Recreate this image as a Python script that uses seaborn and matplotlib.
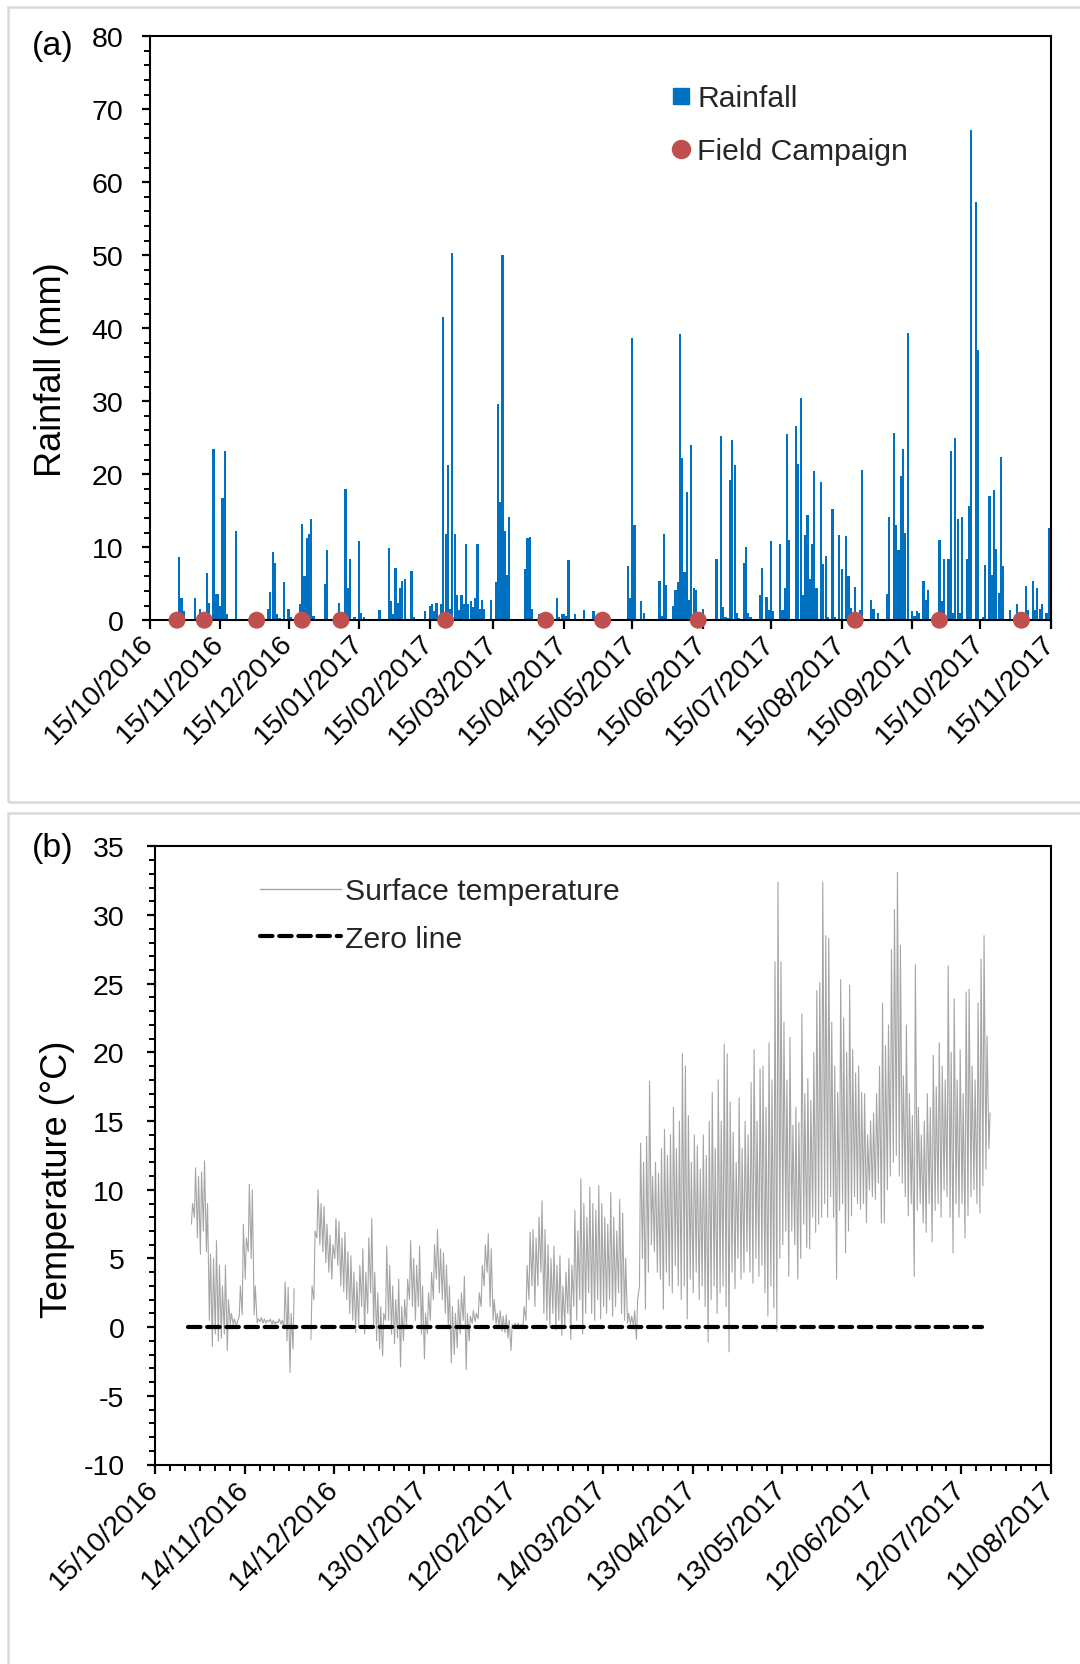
import numpy as np
import pandas as pd
import matplotlib
matplotlib.use("Agg")
import matplotlib.pyplot as plt
import matplotlib.dates as mdates
from matplotlib.ticker import FixedLocator, MultipleLocator, NullLocator
from matplotlib.lines import Line2D
from matplotlib.patches import Rectangle
import seaborn as sns

sns.set_theme(style="white")
plt.rcParams["font.family"] = ["Liberation Sans", "DejaVu Sans"]
plt.rcParams["axes.unicode_minus"] = False

# ---------------- data: panel (a) daily rainfall ----------------
rain_dates = [
    "2016-10-28", "2016-10-29", "2016-10-30", "2016-11-04", "2016-11-06", "2016-11-09",
    "2016-11-10", "2016-11-11", "2016-11-12", "2016-11-13", "2016-11-14", "2016-11-15",
    "2016-11-16", "2016-11-17", "2016-11-18", "2016-11-20", "2016-11-22",
    "2016-12-06", "2016-12-07", "2016-12-08", "2016-12-09", "2016-12-10", "2016-12-11",
    "2016-12-13", "2016-12-15", "2016-12-16", "2016-12-20", "2016-12-21", "2016-12-22",
    "2016-12-23", "2016-12-24", "2016-12-25", "2016-12-26", "2016-12-30", "2016-12-31",
    "2017-01-01", "2017-01-06", "2017-01-09", "2017-01-10", "2017-01-11", "2017-01-13",
    "2017-01-15", "2017-01-16", "2017-01-17", "2017-01-24", "2017-01-28", "2017-01-29",
    "2017-01-30", "2017-01-31", "2017-02-01", "2017-02-02", "2017-02-03", "2017-02-04",
    "2017-02-05", "2017-02-07", "2017-02-08", "2017-02-13", "2017-02-15", "2017-02-16",
    "2017-02-17", "2017-02-18", "2017-02-20", "2017-02-21", "2017-02-22", "2017-02-23",
    "2017-02-24", "2017-02-25", "2017-02-26", "2017-02-27", "2017-02-28", "2017-03-01",
    "2017-03-02", "2017-03-03", "2017-03-04", "2017-03-05", "2017-03-06", "2017-03-07",
    "2017-03-08", "2017-03-09", "2017-03-10", "2017-03-11", "2017-03-12", "2017-03-14",
    "2017-03-16", "2017-03-17", "2017-03-18", "2017-03-19", "2017-03-20", "2017-03-21",
    "2017-03-22", "2017-03-23", "2017-03-29", "2017-03-30", "2017-03-31", "2017-04-01",
    "2017-04-04", "2017-04-06", "2017-04-12", "2017-04-13", "2017-04-14", "2017-04-15",
    "2017-04-16", "2017-04-17", "2017-04-20", "2017-04-24", "2017-04-25", "2017-04-28",
    "2017-05-13", "2017-05-14", "2017-05-15", "2017-05-16", "2017-05-19", "2017-05-20",
    "2017-05-22", "2017-05-23", "2017-05-27", "2017-05-28", "2017-05-29", "2017-05-30",
    "2017-06-01", "2017-06-02", "2017-06-03", "2017-06-04", "2017-06-05", "2017-06-06",
    "2017-06-07", "2017-06-08", "2017-06-09", "2017-06-10", "2017-06-11", "2017-06-12",
    "2017-06-15", "2017-06-21", "2017-06-23", "2017-06-24", "2017-06-25", "2017-06-26",
    "2017-06-27", "2017-06-28", "2017-06-29", "2017-06-30", "2017-07-01", "2017-07-03",
    "2017-07-04", "2017-07-05", "2017-07-06", "2017-07-07", "2017-07-10", "2017-07-11",
    "2017-07-13", "2017-07-14", "2017-07-15", "2017-07-16", "2017-07-19", "2017-07-20",
    "2017-07-21", "2017-07-22", "2017-07-23", "2017-07-26", "2017-07-27", "2017-07-28",
    "2017-07-29", "2017-07-30", "2017-07-31", "2017-08-01", "2017-08-02", "2017-08-03",
    "2017-08-04", "2017-08-06", "2017-08-07", "2017-08-08", "2017-08-09", "2017-08-11",
    "2017-08-12", "2017-08-14", "2017-08-15", "2017-08-17", "2017-08-18", "2017-08-19",
    "2017-08-21", "2017-08-23", "2017-08-24", "2017-08-26", "2017-08-28", "2017-08-29",
    "2017-08-31", "2017-09-04", "2017-09-05", "2017-09-07", "2017-09-08", "2017-09-09",
    "2017-09-10", "2017-09-11", "2017-09-12", "2017-09-13", "2017-09-15", "2017-09-16",
    "2017-09-17", "2017-09-18", "2017-09-20", "2017-09-21", "2017-09-22", "2017-09-27",
    "2017-09-28", "2017-09-29", "2017-10-01", "2017-10-02", "2017-10-03", "2017-10-04",
    "2017-10-05", "2017-10-06", "2017-10-07", "2017-10-09", "2017-10-10", "2017-10-11",
    "2017-10-13", "2017-10-14", "2017-10-16", "2017-10-17", "2017-10-19", "2017-10-20",
    "2017-10-21", "2017-10-22", "2017-10-23", "2017-10-24", "2017-10-25", "2017-10-26",
    "2017-10-28", "2017-10-31", "2017-11-01", "2017-11-04", "2017-11-05", "2017-11-07",
    "2017-11-08", "2017-11-09", "2017-11-10", "2017-11-11", "2017-11-13", "2017-11-14",
]
rain_mm = [
    8.6, 3.0, 1.3, 3.0, 1.6, 6.4,
    2.4, 0.5, 23.5, 3.6, 3.6, 2.0,
    16.8, 23.2, 0.8, 0.2, 12.2,
    1.6, 3.8, 9.4, 7.8, 0.8, 0.3,
    5.2, 1.6, 0.4, 2.2, 13.2, 6.0,
    11.2, 11.8, 13.8, 0.6, 0.2, 5.0,
    9.6, 2.4, 18.0, 4.4, 8.4, 0.4,
    10.8, 1.0, 0.4, 1.4, 9.9, 2.6,
    0.8, 7.2, 2.4, 4.4, 5.4, 5.6,
    0.2, 6.8, 0.4, 1.3, 1.9, 2.2,
    1.3, 2.4, 2.2, 41.5, 11.8, 21.2,
    1.6, 50.3, 11.8, 3.4, 1.4, 3.4,
    2.2, 10.4, 2.2, 2.6, 1.8, 3.0,
    10.4, 1.5, 2.8, 1.5, 0.2, 2.8,
    5.2, 29.6, 16.2, 50.0, 12.2, 6.2,
    14.1, 0.2, 7.0, 11.2, 11.4, 1.6,
    0.8, 0.8, 3.0, 0.4, 0.8, 0.8,
    0.6, 8.2, 0.8, 1.4, 0.2, 1.3,
    7.4, 3.0, 38.6, 13.1, 2.6, 1.0,
    0.1, 0.1, 5.4, 0.6, 11.8, 4.8,
    0.2, 2.0, 4.1, 5.2, 39.2, 22.2,
    6.6, 17.6, 2.8, 24.0, 4.4, 4.2,
    1.6, 8.4, 25.2, 1.8, 0.5, 0.3,
    19.2, 24.7, 21.2, 1.0, 0.3, 7.9,
    10.0, 1.0, 0.5, 0.2, 3.4, 7.2,
    3.2, 1.4, 10.8, 1.3, 10.4, 1.4,
    4.4, 25.5, 11.0, 26.6, 21.4, 30.4,
    3.4, 11.7, 14.4, 5.6, 10.5, 20.4,
    4.4, 19.0, 7.7, 8.8, 0.4, 15.2,
    0.5, 11.7, 7.0, 11.5, 6.0, 1.7,
    4.6, 1.4, 20.6, 0.2, 2.8, 1.6,
    1.0, 3.6, 14.1, 25.6, 13.1, 9.6,
    19.8, 23.4, 12.0, 39.3, 1.3, 0.6,
    1.3, 1.0, 5.4, 2.8, 4.2, 11.0,
    2.6, 8.4, 8.4, 23.2, 1.0, 25.0,
    13.8, 1.0, 14.2, 8.4, 15.6, 67.2,
    57.3, 37.0, 0.4, 7.6, 17.0, 6.2,
    17.9, 9.8, 3.7, 22.4, 7.4, 0.2,
    1.4, 2.2, 0.2, 4.7, 1.4, 5.4,
    1.4, 4.4, 1.6, 2.2, 1.0, 12.6,
]
campaign_dates = [
    "2016-10-27", "2016-11-08", "2016-12-01", "2016-12-21", "2017-01-07", "2017-02-22",
    "2017-04-07", "2017-05-02", "2017-06-13", "2017-08-21", "2017-09-27", "2017-11-02",
]
rain_tick_labels = [
    "15/10/2016", "15/11/2016", "15/12/2016", "15/01/2017", "15/02/2017", "15/03/2017",
    "15/04/2017", "15/05/2017", "15/06/2017", "15/07/2017", "15/08/2017", "15/09/2017",
    "15/10/2017", "15/11/2017",
]

# ---------------- data: panel (b) surface temperature ----------------
temp_first_day = "2016-10-27"
temp_daily_max = [
    9.0, 11.6, 11.0, 11.3, 12.1, 9.0,
    5.3, 5.0, 6.3, 4.5, 3.0, 4.5, 2.0, 1.0,
    0.6, 0.4,
    3.0, 7.5, 6.5, 10.4, 10.0, 3.0,
    0.6, 0.7, 0.6, 0.5, 0.6, 0.5, 0.4, 0.6, 0.5,
    3.3, 2.9, 1.0, 2.8,
    np.nan, np.nan, np.nan, np.nan, np.nan,
    3.0, 7.0, 10.0, 9.0,
    8.8, 7.5, 6.7, 6.0, 7.9, 7.7, 6.5, 6.9, 5.5,
    5.2, 4.0, 3.3, 4.5, 5.7, 4.0, 6.5, 7.9, 4.0, 2.5, 1.5,
    1.0, 5.9, 4.5, 3.0, 2.0, 3.5, 1.5, 2.0,
    3.5, 6.3, 5.0, 4.5, 5.9, 3.0, 1.0, 2.5,
    4.0, 6.0, 7.1, 5.7, 5.4, 4.5, 3.0, 1.5,
    1.0, 2.0, 2.5, 3.7, 1.0, 0.8, 1.2,
    1.0, 2.5, 4.5, 6.0, 6.8, 5.7, 2.0,
    1.0, 1.2, 0.8, 0.9, 0.5, 0.2, 0.3,
    0.3, 0.2, 1.5, 4.5,
    6.9, 7.1, 6.5, 8.0, 9.2, 7.1, 6.0, 5.0, 5.9, 4.5, 5.2, 3.0,
    4.0, 5.0, 4.5, 8.5, 7.0, 10.8, 9.0, 8.0, 10.2, 9.0, 8.5, 10.3, 9.0, 8.0,
    7.5, 9.8, 8.0, 7.0, 9.3, 8.3, 5.0,
    1.0, 0.8, 1.2, 2.0,
    13.4, 12.0, 13.9, 17.9, 11.0, 12.0, 11.2, 13.0, 14.4, 12.5, 14.0, 16.0, 13.0, 15.0, 19.9,
    19.0, 15.4, 12.0, 14.0, 13.2, 11.5, 14.0, 12.5, 15.0, 17.1, 13.0, 18.0, 15.0, 20.6, 19.9, 16.4,
    14.2, 12.0, 16.7, 13.0, 15.0, 14.0, 17.8, 20.2, 15.0, 18.8, 19.0, 16.0, 20.7, 18.0, 26.6,
    32.4, 26.6, 22.2, 18.0,
    21.1, 14.7, 16.0, 14.9, 22.8, 17.0, 18.1, 16.5, 20.0, 24.5, 25.1, 32.4,
    28.5, 28.3, 22.2, 19.0, 17.1, 25.3, 22.5, 20.0, 24.9, 20.2, 18.5, 19.0, 17.1,
    17.0, 14.0, 15.0, 15.6, 17.0, 19.0, 23.6, 20.5, 22.0, 27.5, 30.4, 33.1,
    27.8, 18.3, 22.0, 17.0, 15.4, 26.4, 16.0, 14.0,
    15.0, 17.0, 16.0, 19.8, 17.5, 20.7, 19.0, 18.0, 26.3, 20.0, 23.9, 18.0,
    20.2, 17.0, 24.4, 24.6, 19.0, 18.0, 23.6, 26.8, 28.5, 21.2, 15.6,
]
temp_daily_min = [
    7.5, 8.0, 6.5, 5.3, 7.0, 5.5,
    0.5, -1.4, -0.5, -1.0, -0.8, -0.5, -1.7, 0.2,
    0.2, 0.1,
    0.8, 0.9, 3.5, 5.5, 5.0, 0.9,
    0.3, 0.4, 0.3, 0.3, 0.4, 0.2, 0.2, 0.3, 0.2,
    0.0, -1.0, -3.3, -1.6,
    np.nan, np.nan, np.nan, np.nan, np.nan,
    -0.9, 2.0, 6.5, 6.0,
    5.5, 4.7, 4.0, 3.5, 5.0, 4.5, 3.0, 2.6, 2.0,
    1.0, 0.5, -0.4, 0.0, 1.5, -0.5, 1.0, 2.5, 0.0, -1.0, -1.6,
    -2.1, 0.5, 0.5, -0.5, -1.2, -0.8, -2.9, -1.0,
    0.0, 2.0, 1.5, 0.5, 1.5, -0.5, -2.3, -0.5,
    0.5, 2.0, 3.5, 2.5, 2.0, 1.0, 0.0, -2.6,
    -2.0, -1.5, -0.5, 0.5, -3.1, -1.0, 0.3,
    0.4, 0.6, 1.5, 3.0, 4.0, 1.5, 0.5,
    0.2, 0.0, -0.3, -0.4, -0.8, -1.7, 0.0,
    0.0, -0.1, 0.0, 0.5,
    2.0, 3.0, 1.5, 3.0, 4.0, 1.0, 0.5, 0.0, 1.0, -0.2, 0.5, -0.6,
    0.0, 1.0, -0.9, 1.5, 0.5, 2.0, -0.5, 1.0, 2.5, 1.0, 0.5, 2.0, 0.6, 1.5,
    1.0, 2.0, 0.8, 1.5, 2.5, 1.0, 0.5,
    0.3, 0.2, 0.1, -0.9,
    3.0, 5.0, 1.3, 4.0, 6.0, 5.5, 4.0, 3.5, 1.3, 4.0, 3.0, 2.5, 4.5, 3.0, 2.0,
    3.0, 0.6, 3.5, 2.5, 4.0, 2.0, 3.0, 1.5, -1.1, 2.0, 3.0, 1.0, 2.5, 3.0, 1.5, -1.8,
    4.0, 2.8, 5.0, 3.5, 4.0, 5.5, 4.0, 3.2, 5.0, 3.7, 4.5, 2.5, 0.8, 3.0, 1.4,
    -0.3, 5.0, 6.0, 7.0,
    3.7, 7.0, 6.0, 3.5, 5.0, 7.5, 5.8, 5.7, 8.0, 6.9, 7.5, 8.0,
    9.0, 8.0, 9.5, 8.0, 3.5, 8.5, 9.0, 5.4, 7.0, 8.1, 9.5, 9.0, 8.6,
    9.0, 7.6, 10.0, 9.5, 9.3, 10.5, 7.6, 7.6, 10.0, 11.0, 12.0, 12.5,
    11.0, 10.5, 9.5, 8.1, 9.0, 3.7, 8.5, 9.0,
    7.6, 6.9, 9.0, 6.2, 8.5, 9.0, 8.0, 10.0, 9.5, 8.0, 5.4, 9.0,
    8.0, 9.0, 6.5, 8.1, 9.5, 10.0, 9.0, 8.3, 10.3, 11.5, 13.0,
]
zero_line_dates = ["2016-10-26", "2017-07-19"]
zero_line_values = [0.0, 0.0]
temp_tick_labels = [
    "15/10/2016", "14/11/2016", "14/12/2016", "13/01/2017", "12/02/2017", "14/03/2017",
    "13/04/2017", "13/05/2017", "12/06/2017", "12/07/2017", "11/08/2017",
]

# ---------------- build tables ----------------
rain_df = pd.DataFrame({
    "date": mdates.date2num(pd.to_datetime(rain_dates)),
    "rain": rain_mm,
})
camp_df = pd.DataFrame({
    "date": mdates.date2num(pd.to_datetime(campaign_dates)),
    "y": np.zeros(len(campaign_dates)),
})

days = pd.date_range(temp_first_day, periods=len(temp_daily_max), freq="D")
rows = []
for d, lo, hi in zip(days, temp_daily_min, temp_daily_max):
    seg = 0 if d < pd.Timestamp("2016-12-01") else 1
    rows.append((d + pd.Timedelta(hours=5), lo, seg))
    rows.append((d + pd.Timedelta(hours=14), hi, seg))
temp_df = pd.DataFrame(rows, columns=["time", "temp", "seg"]).dropna()
temp_df["time"] = mdates.date2num(temp_df["time"])

zero_df = pd.DataFrame({
    "time": mdates.date2num(pd.to_datetime(zero_line_dates)),
    "temp": zero_line_values,
})

# ---------------- figure ----------------
W, H = 1080, 1665
fig = plt.figure(figsize=(W / 100, H / 100), dpi=100)
fig.patch.set_facecolor("white")

def fx(px):
    return px / W

def fy(py):
    return 1 - py / H

# light grey panel frames
fig.add_artist(Rectangle((fx(8), fy(803)), fx(1100 - 8), (803 - 8) / H,
                         transform=fig.transFigure, fill=False, edgecolor="#D9D9D9", lw=1.8))
fig.add_artist(Rectangle((fx(8), fy(1690)), fx(1100 - 8), (1690 - 814) / H,
                         transform=fig.transFigure, fill=False, edgecolor="#D9D9D9", lw=1.8))

ax1 = fig.add_axes([fx(149.7), fy(621.2), fx(1051 - 149.7), (621.2 - 37.2) / H])
ax2 = fig.add_axes([fx(155), fy(1465.5), fx(1051 - 155), (1465.5 - 847.4) / H])

TICK_FS = 20.5
LEG_FS = 21.7
LAB_FS = 26

blue = "#0070C0"
red = "#C0504D"
grey = "#A5A5A5"

# ---- panel (a) ----
sns.barplot(data=rain_df, x="date", y="rain", native_scale=True, color=blue,
            saturation=1, width=0.95, errorbar=None, linewidth=0, ax=ax1, zorder=2)
sns.scatterplot(data=camp_df, x="date", y="y", s=150, color=red, edgecolor="none",
                zorder=5, clip_on=False, legend=False, ax=ax1)

r_ticks = mdates.date2num(pd.to_datetime(rain_tick_labels, format="%d/%m/%Y"))
ax1.set_xlim(r_ticks[0], r_ticks[-1])
ax1.set_ylim(0, 80)
ax1.xaxis.set_major_locator(FixedLocator(r_ticks))
ax1.set_xticklabels(rain_tick_labels)
ax1.xaxis.set_minor_locator(NullLocator())
ax1.yaxis.set_major_locator(MultipleLocator(10))
ax1.yaxis.set_minor_locator(MultipleLocator(2))
ax1.set_xlabel("")
ax1.set_ylabel("Rainfall (mm)", fontsize=LAB_FS, color="black")
ax1.yaxis.set_label_coords(-0.089, 0.43)

leg1 = ax1.legend(
    handles=[Line2D([], [], marker="s", color=blue, linestyle="none", markersize=11),
             Line2D([], [], marker="o", color=red, linestyle="none", markersize=13)],
    labels=["Rainfall", "Field Campaign"],
    loc="upper left", bbox_to_anchor=(0.576, 0.918), frameon=False,
    fontsize=LEG_FS, handlelength=0.8, handletextpad=0.15, labelspacing=0.83,
    borderpad=0, borderaxespad=0)

# ---- panel (b) ----
sns.lineplot(data=temp_df, x="time", y="temp", units="seg", estimator=None,
             color=grey, lw=0.8, ax=ax2, zorder=2)
sns.lineplot(data=zero_df, x="time", y="temp", color="black", lw=3,
             linestyle=(0, (3.0, 1.6)), dash_capstyle="round", ax=ax2, zorder=3)

t_ticks = mdates.date2num(pd.to_datetime(temp_tick_labels, format="%d/%m/%Y"))
ax2.set_xlim(t_ticks[0], t_ticks[-1])
ax2.set_ylim(-10, 35)
ax2.xaxis.set_major_locator(FixedLocator(t_ticks))
ax2.set_xticklabels(temp_tick_labels)
ax2.xaxis.set_minor_locator(FixedLocator(np.arange(t_ticks[0], t_ticks[-1] + 0.5, 5)))
ax2.yaxis.set_major_locator(MultipleLocator(5))
ax2.yaxis.set_minor_locator(MultipleLocator(1))
ax2.set_xlabel("")
ax2.set_ylabel("Temperature (\u00b0C)", fontsize=LAB_FS, color="black")
ax2.yaxis.set_label_coords(-0.089, 0.463)

leg2 = ax2.legend(
    handles=[Line2D([], [], color=grey, lw=1.0),
             Line2D([], [], color="black", lw=3, linestyle=(0, (3.0, 1.6)),
                    dash_capstyle="round")],
    labels=["Surface temperature", "Zero line"],
    loc="upper left", bbox_to_anchor=(0.117, 0.950), frameon=False,
    fontsize=LEG_FS, handlelength=2.7, handletextpad=0.13, labelspacing=0.65,
    borderpad=0, borderaxespad=0)

# ---- common styling ----
for ax, ypad, xpad in ((ax1, 13, 7), (ax2, 16, 8)):
    ax.set_facecolor("white")
    for sp in ax.spines.values():
        sp.set_visible(True)
        sp.set_color("black")
        sp.set_linewidth(1.5)
    ax.tick_params(axis="y", which="major", direction="out", length=6, width=1.6,
                   labelsize=TICK_FS, pad=ypad, colors="black", left=True, right=False)
    ax.tick_params(axis="y", which="minor", direction="out", length=4, width=1.4,
                   left=True, right=False, colors="black")
    ax.tick_params(axis="x", which="major", direction="out", length=6.5, width=1.6,
                   labelsize=TICK_FS, pad=xpad, colors="black", bottom=True, top=False)
    ax.tick_params(axis="x", which="minor", direction="out", length=4, width=1.4,
                   bottom=True, top=False, colors="black")
    for lab in ax.get_xticklabels():
        lab.set_rotation(45)
        lab.set_ha("right")
        lab.set_va("center")
        lab.set_rotation_mode("anchor")
    ax.grid(False)

fig.text(fx(32), fy(47), "(a)", fontsize=24.5, va="center", ha="left", color="black")
fig.text(fx(32), fy(849), "(b)", fontsize=24.5, va="center", ha="left", color="black")

fig.savefig("out.png", dpi=100, facecolor="white")
